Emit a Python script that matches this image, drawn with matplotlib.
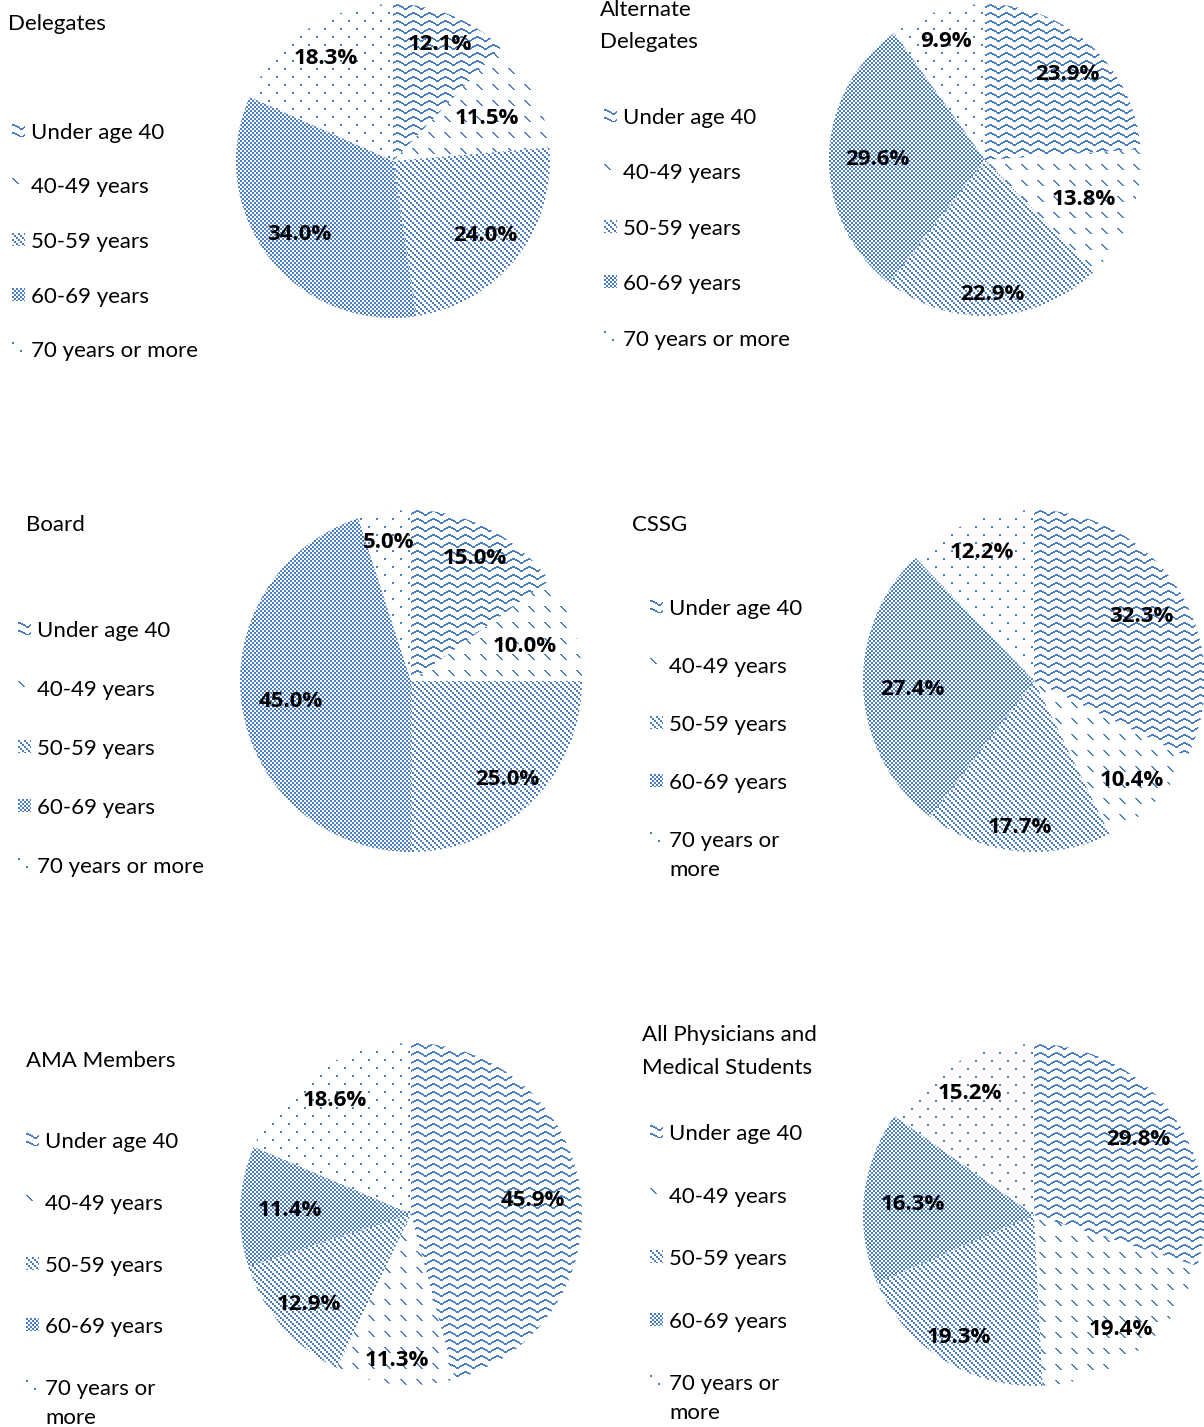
import numpy as np
import matplotlib
matplotlib.use("Agg")
import matplotlib.pyplot as plt
from matplotlib.colors import to_rgba

W, H, DPI = 1204, 1427, 100

# ---- data -------------------------------------------------------------
age_groups = ["Under age 40", "40-49 years", "50-59 years", "60-69 years",
              "70 years or more"]

delegates = [12.1, 11.5, 24.0, 34.0, 18.3]
alternate_delegates = [23.9, 13.8, 22.9, 29.6, 9.9]
board = [15.0, 10.0, 25.0, 45.0, 5.0]
cssg = [32.3, 10.4, 17.7, 27.4, 12.2]
ama_members = [45.9, 11.3, 12.9, 11.4, 18.6]
all_physicians = [29.8, 19.4, 19.3, 16.3, 15.2]

panel_titles = [["Delegates"], ["Alternate", "Delegates"], ["Board"], ["CSSG"],
                ["AMA Members"], ["All Physicians and", "Medical Students"]]

# ---- style ------------------------------------------------------------
BLUE = to_rgba("#4A7EBF")
FONT = ["Lato", "DejaVu Sans"]
LABEL_FONT = ["Open Sans", "DejaVu Sans"]
FS = 16
TEXT_DY = 2  # small downward nudge so glyphs sit on the intended centre line
patterns = ["wave", "dash", "diag", "checker", "dots"]

# layout of each panel, in pixels from the top-left corner
panels = [
    dict(values=delegates, title=panel_titles[0], tx=8, ty=[22],
         cx=393, cy=161, r=157, lx=12, ly=[131, 185, 240, 295, 349], wrap=False,
         lr=[0.81, 0.66, 0.75, 0.75, 0.79]),
    dict(values=alternate_delegates, title=panel_titles[1], tx=600, ty=[8, 40],
         cx=985, cy=160, r=156, lx=604, ly=[116, 171, 227, 282, 338], wrap=False,
         lr=[0.77, 0.68, 0.85, 0.69, 0.81]),
    dict(values=board, title=panel_titles[2], tx=26, ty=[523],
         cx=411, cy=681, r=171, lx=18, ly=[629, 688, 747, 806, 865], wrap=False,
         lr=[0.82, 0.70, 0.80, 0.71, 0.83]),
    dict(values=cssg, title=panel_titles[3], tx=632, ty=[523],
         cx=1034, cy=681, r=171, lx=650, ly=[607, 665, 723, 781, 839], wrap=True,
         lr=[0.74, 0.81, 0.85, 0.71, 0.82]),
    dict(values=ama_members, title=panel_titles[4], tx=26, ty=[1059],
         cx=411, cy=1214, r=171, lx=26, ly=[1140, 1202, 1264, 1325, 1387], wrap=True,
         lr=[0.72, 0.85, 0.79, 0.71, 0.81]),
    dict(values=all_physicians, title=panel_titles[5], tx=642, ty=[1033, 1066],
         cx=1034, cy=1215, r=171, lx=650, ly=[1132, 1195, 1257, 1320, 1382], wrap=True,
         lr=[0.76, 0.83, 0.83, 0.71, 0.81]),
]

WAVE_LEVELS = np.array([0, 0, 0, 1, 1, 2, 2, 3, 4, 4, 4, 3, 2, 2, 1, 1])


def pattern_mask(kind, h, w):
    """Boolean pixel mask of a repeating fill pattern."""
    y, x = np.mgrid[0:h, 0:w]
    if kind == "wave":
        return ((y - WAVE_LEVELS[x % len(WAVE_LEVELS)]) % 8) < 2
    if kind == "dash":
        xx, yy = x % 16, y % 16
        return (yy < 6) & (((xx - yy) == 0) | ((xx - yy) == 1))
    if kind == "diag":
        return ((x // 2 - y // 2) % 3) == 0
    if kind == "checker":
        return ((x // 2 + y // 2) % 2) == 0
    if kind == "dots":
        row = y // 8
        return ((y % 8) < 2) & (((x + 8 * row) % 16) < 2)
    raise ValueError(kind)


def pattern_rgba(kind, h, w):
    img = np.zeros((h, w, 4))
    img[pattern_mask(kind, h, w)] = BLUE
    return img


fig = plt.figure(figsize=(W / DPI, H / DPI), dpi=DPI)
fig.patch.set_facecolor("white")


def fx(px):
    return px / W


def fy(py):
    return 1 - (py + TEXT_DY) / H


for p in panels:
    r = p["r"]
    size = 2 * r
    ax = fig.add_axes([(p["cx"] - r) / W, 1 - (p["cy"] + r) / H, size / W, size / H])
    wedges, _ = ax.pie(p["values"], startangle=90, counterclock=False, radius=1,
                       wedgeprops=dict(facecolor="none", edgecolor="none"))
    ax.set_xlim(-1, 1)
    ax.set_ylim(-1, 1)
    ax.set_axis_off()
    nudge = 2 * TEXT_DY / size
    for w, kind, val, frac in zip(wedges, patterns, p["values"], p["lr"]):
        im = ax.imshow(pattern_rgba(kind, size, size), extent=(-1, 1, -1, 1),
                       interpolation="nearest", zorder=1)
        im.set_clip_path(w)
        mid = np.deg2rad((w.theta1 + w.theta2) / 2)
        ax.text(frac * np.cos(mid), frac * np.sin(mid) - nudge, f"{val:.1f}%",
                ha="center", va="center", fontsize=FS, fontweight="bold",
                family=LABEL_FONT, color="black", zorder=5, clip_on=False)
    ax.set_aspect("auto")

    # title
    for line, y in zip(p["title"], p["ty"]):
        fig.text(fx(p["tx"]), fy(y), line, ha="left", va="center",
                 fontsize=FS, family=FONT, color="black")

    # legend
    sw = 13
    for label, kind, y in zip(age_groups, patterns, p["ly"]):
        sw_img = pattern_rgba(kind, sw, sw)
        a = sw_img[..., 3:4]
        swatch = np.ones((sw, sw, 4)) * (1 - a) + sw_img * a
        swatch[..., 3] = 1
        fig.figimage(swatch, xo=p["lx"], yo=H - y - sw // 2, origin="upper")
        lines = [label]
        if p["wrap"] and label == "70 years or more":
            lines = ["70 years or", "more"]
        for i, line in enumerate(lines):
            fig.text(fx(p["lx"] + 19), fy(y + 29 * i), line, ha="left",
                     va="center", fontsize=FS, family=FONT, color="black")

fig.savefig("out.png", dpi=DPI, facecolor="white")
